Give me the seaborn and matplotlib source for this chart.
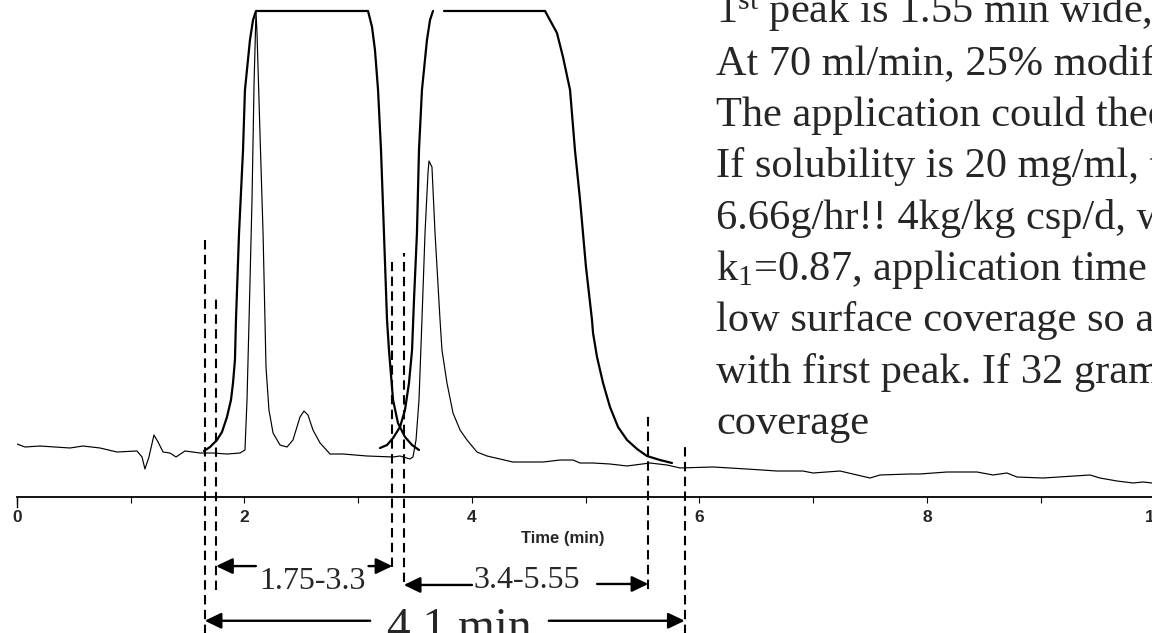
import matplotlib
matplotlib.use("Agg")
import matplotlib.pyplot as plt
import seaborn as sns
import pandas as pd

# Detector trace (time in min, detector response)
trace_time = [0.000, 0.070, 0.202, 0.466, 0.580, 0.730, 0.879, 1.055, 1.099, 1.125,
              1.160, 1.204, 1.240, 1.284, 1.345, 1.398, 1.477, 1.609, 1.723, 1.846,
              1.960, 2.004, 2.022, 2.040, 2.066, 2.084, 2.101, 2.110, 2.136, 2.163,
              2.180, 2.189, 2.215, 2.251, 2.312, 2.374, 2.426, 2.488, 2.523, 2.558,
              2.602, 2.664, 2.752, 2.866, 3.077, 3.306, 3.367, 3.455, 3.481, 3.508,
              3.534, 3.560, 3.587, 3.613, 3.622, 3.648, 3.675, 3.719, 3.736, 3.780,
              3.833, 3.895, 3.956, 4.044, 4.132, 4.360, 4.624, 4.774, 4.888, 4.950,
              5.064, 5.213, 5.363, 5.565, 5.714, 5.829, 6.119, 6.418, 6.681, 6.910,
              6.998, 7.235, 7.385, 7.499, 7.587, 7.851, 7.938, 8.176, 8.440, 8.580,
              8.703, 8.791, 9.020, 9.433, 9.521, 9.670, 9.811, 9.899, 9.978, 10.10,
              10.30]
trace_signal = [10.66, 10.06, 10.26, 9.86, 10.26, 9.86, 9.05, 9.26, 8.05, 5.63,
                8.05, 12.47, 11.07, 9.05, 8.85, 8.05, 9.26, 8.85, 8.85, 8.65,
                8.85, 9.46, 19.52, 35.61, 59.76, 83.30, 97.59, 93.36, 73.24, 53.12,
                35.61, 26.16, 17.51, 12.88, 10.46, 10.06, 11.47, 16.10, 17.30, 16.50,
                13.48, 10.87, 8.65, 8.65, 8.25, 8.05, 8.25, 7.65, 8.05, 11.47,
                19.52, 35.61, 53.12, 65.19, 67.61, 66.40, 53.12, 35.61, 29.58, 22.94,
                16.90, 13.48, 11.47, 9.05, 8.25, 7.04, 7.04, 7.44, 7.44, 6.84,
                6.84, 6.64, 6.24, 6.84, 6.44, 5.84, 6.04, 5.63, 5.23, 5.23,
                4.83, 5.23, 4.43, 3.82, 4.43, 4.63, 4.63, 5.03, 5.03, 4.43,
                4.83, 4.02, 3.82, 4.43, 3.82, 3.22, 2.82, 3.02, 2.82, 2.90,
                2.80]

# Overloaded band of the first component (drawn as a heavy outline)
band1_time = [1.644, 1.697, 1.758, 1.802, 1.846, 1.881, 1.899, 1.916, 1.925, 1.952,
              1.987, 2.004, 2.048, 2.075, 2.101, 3.086, 3.121, 3.147, 3.174, 3.200,
              3.226, 3.253, 3.270, 3.306, 3.349, 3.411, 3.473, 3.534]
band1_signal = [9.26, 10.06, 11.47, 13.08, 16.10, 19.52, 22.94, 27.57, 35.61, 53.12,
                69.82, 81.89, 91.95, 95.98, 97.79, 97.79, 94.57, 89.94, 81.89, 69.82,
                53.12, 35.61, 29.58, 19.52, 14.89, 12.07, 10.46, 9.46]

# Overloaded band of the second component: front edge, then plateau and tail
band2_front_time = [3.191, 3.253, 3.306, 3.367, 3.411, 3.446, 3.473, 3.490, 3.516, 3.534,
                    3.560, 3.604, 3.631, 3.657]
band2_front_signal = [9.86, 10.46, 11.87, 14.08, 17.51, 22.94, 29.58, 39.64, 53.12, 69.82,
                      81.89, 91.95, 95.98, 97.79]
band2_rear_time = [3.754, 4.642, 4.747, 4.800, 4.862, 4.905, 4.950, 5.002, 5.055, 5.064,
                   5.099, 5.152, 5.213, 5.284, 5.363, 5.451, 5.538, 5.653, 5.758]
band2_rear_signal = [97.79, 97.79, 93.36, 88.53, 81.89, 69.82, 59.76, 46.28, 35.61, 33.00,
                     28.17, 22.94, 18.11, 14.08, 11.47, 9.66, 8.25, 7.44, 6.84]

# Cut windows (min)
cut1 = (1.75, 3.3)
cut2 = (3.4, 5.55)
cycle = (1.65, 5.87)
cut_labels = ["1.75-3.3", "3.4-5.55", "4.1 min"]

x_ticks = [0, 2, 4, 6, 8, 10]
x_minor = [1, 3, 5, 7, 9]
x_label = "Time (min)"

notes = [
    r"1$^{\mathrm{st}}$ peak is 1.55 min wide,",
    "At 70 ml/min, 25% modifier,",
    "The application could theoretically",
    "If solubility is 20 mg/ml, then",
    "6.66g/hr!! 4kg/kg csp/d, with",
    r"k$_{\mathrm{1}}$=0.87, application time is",
    "low surface coverage so as",
    "with first peak. If 32 grams",
    "coverage",
]

sns.set_theme(style="white")
plt.rcParams["font.family"] = ["Liberation Sans", "DejaVu Sans"]
plt.rcParams["mathtext.fontset"] = "custom"
plt.rcParams["mathtext.rm"] = "Liberation Serif"
plt.rcParams["mathtext.it"] = "Liberation Serif:italic"

W, H = 1152, 633
fig = plt.figure(figsize=(W / 100, H / 100), dpi=100)
px_per_min = 113.75
x0_px, axis_px = 17, 497
xmax = 10.3
ax = fig.add_axes([x0_px / W, (H - axis_px) / H, xmax * px_per_min / W, axis_px / H])
ax.set_xlim(0, xmax)
ax.set_ylim(0, 100)
ax.patch.set_alpha(0)

trace = pd.DataFrame({"t": trace_time, "s": trace_signal})
sns.lineplot(data=trace, x="t", y="s", ax=ax, color="black", lw=0.85,
             sort=False, estimator=None)
for tt, ss in [(band1_time, band1_signal), (band2_front_time, band2_front_signal),
               (band2_rear_time, band2_rear_signal)]:
    sns.lineplot(x=tt, y=ss, ax=ax, color="black", lw=1.6, sort=False, estimator=None)

# Dashed cut markers
dash = (0, (4.5, 2.6))
marker_lines = [(cycle[0], 52.5, -28.0), (cut1[0], 40.0, -18.7), (cut1[1], 47.3, -14.1),
                (cut2[0], 49.1, -17.1), (cut2[1], 16.3, -18.5), (cycle[1], 11.1, -28.0)]
for xv, top, bot in marker_lines:
    ax.vlines(xv, bot, top, colors="black", lw=1.5, linestyles=dash, clip_on=False)

serif = ["Liberation Serif", "DejaVu Serif"]
arrow_style = "-|>,head_length=0.5,head_width=0.24"


def arrow(tip, tail, y):
    ax.annotate("", xy=(tip, y), xytext=(tail, y), annotation_clip=False,
                arrowprops=dict(arrowstyle=arrow_style, mutation_scale=20, lw=1.7,
                                color="black", shrinkA=0, shrinkB=0))


arrow(cut1[0], 2.10, -13.9)
arrow(cut1[1], 3.09, -13.9)
ax.text(2.60, -18.5, cut_labels[0], ha="center", va="baseline", fontsize=23,
        family=serif, clip_on=False)
arrow(cut2[0], 4.00, -17.7)
arrow(cut2[1], 5.10, -17.5)
ax.text(4.48, -18.3, cut_labels[1], ha="center", va="baseline", fontsize=23,
        family=serif, clip_on=False)
arrow(cycle[0], 3.105, -24.9)
arrow(cycle[1], 4.675, -24.9)
ax.text(3.89, -28.8, cut_labels[2], ha="center", va="baseline", fontsize=34,
        family=serif, clip_on=False)

# Axis styling
for side in ["top", "right"]:
    ax.spines[side].set_visible(False)
ax.spines["bottom"].set_color("black")
ax.spines["bottom"].set_linewidth(1.3)
ax.spines["left"].set_color("black")
ax.spines["left"].set_linewidth(1.0)
ax.spines["left"].set_bounds(-2, 0)
ax.set_yticks([])
ax.set_ylabel("")
ax.set_xticks(x_ticks)
ax.set_xticks(x_minor, minor=True)
ax.set_xticklabels([str(v) for v in x_ticks], fontsize=12.5, fontweight="bold")
ax.tick_params(axis="x", which="both", direction="out", length=4, width=0.8,
               color="black", bottom=True, pad=5)
ax.set_xlabel(x_label, fontsize=12, fontweight="bold")
ax.xaxis.set_label_coords(4.8 / xmax, -34 / axis_px)
ax.xaxis.label.set_va("top")

# Notes block on the right
x_text = 716
base0, step = 23, 51.4
for i, line in enumerate(notes):
    fig.text(x_text / W, 1 - (base0 + i * step) / H, line, ha="left", va="baseline",
             fontsize=30.5, family=serif)

fig.savefig("out.png", dpi=100)
